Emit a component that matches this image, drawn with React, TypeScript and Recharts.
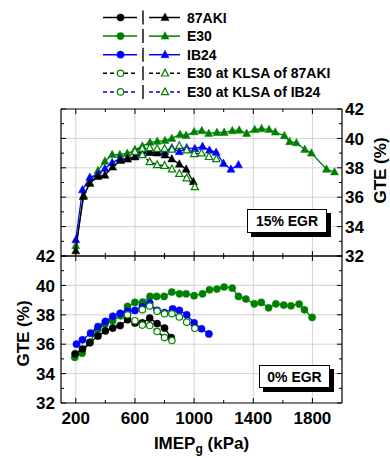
import React from "react";
import { ReferenceLine, Scatter, ScatterChart, XAxis, YAxis } from "recharts";

const BLACK = "#000000";
const GREEN = "#008000";
const BLUE = "#0000ff";
const GRID = "#d2d2d2";
const FONT = '"Liberation Sans", Arial, sans-serif';

// x axis (IMEPg, kPa)
const xTicks = [200, 400, 600, 800, 1000, 1200, 1400, 1600, 1800];
const xMajor = [200, 600, 1000, 1400, 1800];
// y axis (GTE, %)
const yTicks = [32, 33, 34, 35, 36, 37, 38, 39, 40, 41, 42];
const yGrid = [34, 36, 38, 40];

// 15% EGR panel
const e15AkiX = [200, 250, 295, 350, 397, 449, 503, 550, 600, 650, 700, 751, 803, 849, 900, 946, 995];
const e15AkiY = [32.35, 36.05, 36.95, 37.4, 37.5, 38.05, 38.5, 38.6, 38.75, 39.2, 39.05, 39.0, 38.87, 38.6, 38.25, 37.9, 37.05];
const e15E30X = [200, 255, 295, 350, 397, 446, 498, 548, 600, 650, 702, 751, 803, 849, 905, 946, 1000, 1052, 1099, 1154, 1203, 1258, 1305, 1355, 1410, 1456, 1507, 1549, 1610, 1646, 1692, 1748, 1793, 1895, 1949];
const e15E30Y = [32.7, 36.1, 36.95, 37.8, 38.45, 38.9, 38.9, 38.98, 39.2, 39.48, 39.73, 39.8, 39.85, 40.0, 40.27, 40.2, 40.45, 40.52, 40.34, 40.4, 40.4, 40.52, 40.56, 40.34, 40.6, 40.66, 40.6, 40.43, 40.18, 39.78, 39.7, 39.25, 39.0, 37.9, 37.72];
const e15IbX = [200, 245, 295, 350, 397, 446, 498, 548, 600, 650, 702, 751, 803, 849, 900, 950, 1005, 1057, 1104, 1149, 1199, 1249, 1300];
const e15IbY = [33.1, 36.5, 37.35, 37.55, 37.95, 38.35, 38.6, 38.6, 38.75, 38.95, 39.05, 39.05, 39.1, 39.35, 39.1, 39.35, 39.3, 39.45, 39.2, 39.05, 38.3, 37.9, 38.2];
const e15KlsaAkiX = [600, 650, 700, 750, 800, 850, 900, 950, 1005];
const e15KlsaAkiY = [39.1, 38.87, 38.4, 38.2, 38.15, 37.9, 37.6, 37.3, 36.7];
const e15KlsaIbX = [600, 650, 700, 750, 800, 850, 900, 950, 1000, 1050, 1100, 1150];
const e15KlsaIbY = [39.2, 39.3, 39.35, 39.3, 39.3, 39.25, 39.5, 39.2, 38.95, 39.0, 38.75, 38.6];

// 0% EGR panel
const e0AkiX = [195, 245, 295, 350, 400, 450, 500, 550, 600, 650, 700, 750, 800, 845];
const e0AkiY = [35.35, 35.67, 36.1, 36.55, 36.9, 37.1, 37.27, 37.67, 37.45, 37.45, 37.78, 37.4, 37.1, 36.45];
const e0E30X = [193, 243, 295, 347, 397, 449, 503, 550, 600, 652, 702, 747, 797, 849, 901, 946, 1000, 1057, 1104, 1154, 1203, 1258, 1300, 1350, 1407, 1454, 1504, 1553, 1606, 1655, 1710, 1746, 1798];
const e0E30Y = [35.11, 35.39, 36.14, 36.98, 37.36, 37.59, 37.93, 38.57, 38.84, 38.86, 39.25, 39.25, 39.25, 39.55, 39.43, 39.43, 39.3, 39.43, 39.7, 39.75, 39.89, 39.82, 39.25, 39.07, 38.75, 38.84, 38.48, 38.75, 38.66, 38.61, 38.73, 38.34, 37.82];
const e0IbX = [205, 245, 300, 350, 400, 450, 500, 550, 600, 650, 700, 750, 800, 855, 900, 950, 1000, 1050, 1100];
const e0IbY = [36.0, 36.3, 36.75, 37.2, 37.55, 37.9, 38.1, 38.25, 38.3, 38.55, 38.8, 38.3, 38.15, 38.4, 38.3, 38.0, 37.45, 37.05, 36.7];
const e0KlsaAkiX = [600, 650, 700, 750, 800, 850];
const e0KlsaAkiY = [37.6, 37.3, 37.27, 36.86, 36.45, 36.25];
const e0KlsaIbX = [550, 650, 700, 750, 800, 850, 900, 950, 1005];
const e0KlsaIbY = [38.0, 38.35, 38.6, 38.25, 38.07, 38.07, 37.85, 37.5, 37.08];

// legend
const legendNames = ["87AKI", "E30", "IB24", "E30 at KLSA of 87AKI", "E30 at KLSA of IB24"];
const legendLine = [BLACK, GREEN, BLUE, BLACK, BLUE];
const legendMark = [BLACK, GREEN, BLUE, GREEN, GREEN];
const legendOpen = [false, false, false, true, true];

const zip = (xs: number[], ys: number[]) => xs.map((x, i) => ({ x, y: ys[i] }));

type Kind = "circle" | "triangle";

function Marker({ cx, cy, kind, color, open }: { cx: number; cy: number; kind: Kind; color: string; open: boolean }) {
  const fill = open ? "#fff" : color;
  if (kind === "circle") {
    return <circle cx={cx} cy={cy} r={open ? 3.2 : 3.6} fill={fill} stroke={color} strokeWidth={open ? 1.2 : 0.5} />;
  }
  const h = open ? 3.6 : 4;
  return (
    <path
      d={`M${cx},${cy - h * 1.1} L${cx + h},${cy + h * 0.75} L${cx - h},${cy + h * 0.75} Z`}
      fill={fill}
      stroke={color}
      strokeWidth={open ? 1.2 : 0.5}
    />
  );
}

type Side = "left" | "right" | "top" | "bottom";

const makeTick = (side: Side, labelled: boolean, isMajor: (v: number) => boolean) =>
  function Tick(p: any) {
    const v = p.payload.value;
    const major = isMajor(v);
    const len = major ? 5 : 3;
    const { x, y } = p;
    let line;
    let label = null;
    if (side === "left") {
      line = <line x1={x} x2={x + len} y1={y} y2={y} />;
      if (labelled && major) label = <text x={x - 6} y={y} dy="0.36em" textAnchor="end">{v}</text>;
    } else if (side === "right") {
      line = <line x1={x} x2={x - len} y1={y} y2={y} />;
      if (labelled && major) label = <text x={x + 3} y={y} dy="0.36em" textAnchor="start">{v}</text>;
    } else if (side === "top") {
      line = <line x1={x} x2={x} y1={y} y2={y + len} />;
    } else {
      line = <line x1={x} x2={x} y1={y} y2={y - len} />;
      if (labelled && major) label = <text x={x} y={y + 21} textAnchor="middle">{v}</text>;
    }
    return (
      <g>
        <g stroke={BLACK} strokeWidth={1}>{line}</g>
        {label && <g fill={BLACK} fontSize={17} fontWeight="bold" fontFamily={FONT}>{label}</g>}
      </g>
    );
  };

const isXMajor = (v: number) => xMajor.includes(v);
const isYMajor = (v: number) => v % 2 === 0;

const gteLabel = (dx: number, dy: number) =>
  function GteLabel(p: any) {
    const vb = p.viewBox;
    const cx = vb.x + dx;
    const cy = vb.y + vb.height / 2 + dy;
    return (
      <text x={cx} y={cy} transform={`rotate(-90 ${cx} ${cy})`} textAnchor="middle" dy="0.36em" fontSize={17} fontWeight="bold" fontFamily={FONT} fill={BLACK}>
        GTE (%)
      </text>
    );
  };

function XTitle(p: any) {
  const vb = p.viewBox;
  return (
    <text x={vb.x + vb.width / 2} y={vb.y + 46} textAnchor="middle" fontSize={17} fontWeight="bold" fontFamily={FONT} fill={BLACK}>
      IMEP
      <tspan fontSize={12} dy={4}>g</tspan>
      <tspan dy={-4}> (kPa)</tspan>
    </text>
  );
}

interface Series {
  name: string;
  data: { x: number; y: number }[];
  color: string;
  line: string;
  open: boolean;
  dashed: boolean;
}

const topSeries: Series[] = [
  { name: "E30", data: zip(e15E30X, e15E30Y), color: GREEN, line: GREEN, open: false, dashed: false },
  { name: "IB24", data: zip(e15IbX, e15IbY), color: BLUE, line: BLUE, open: false, dashed: false },
  { name: "87AKI", data: zip(e15AkiX, e15AkiY), color: BLACK, line: BLACK, open: false, dashed: false },
  { name: "E30 at KLSA of IB24", data: zip(e15KlsaIbX, e15KlsaIbY), color: GREEN, line: BLUE, open: true, dashed: true },
  { name: "E30 at KLSA of 87AKI", data: zip(e15KlsaAkiX, e15KlsaAkiY), color: GREEN, line: BLACK, open: true, dashed: true },
];

const bottomSeries: Series[] = [
  { name: "E30", data: zip(e0E30X, e0E30Y), color: GREEN, line: GREEN, open: false, dashed: false },
  { name: "IB24", data: zip(e0IbX, e0IbY), color: BLUE, line: BLUE, open: false, dashed: false },
  { name: "87AKI", data: zip(e0AkiX, e0AkiY), color: BLACK, line: BLACK, open: false, dashed: false },
  { name: "E30 at KLSA of IB24", data: zip(e0KlsaIbX, e0KlsaIbY), color: GREEN, line: BLUE, open: true, dashed: true },
  { name: "E30 at KLSA of 87AKI", data: zip(e0KlsaAkiX, e0KlsaAkiY), color: GREEN, line: BLACK, open: true, dashed: true },
];

const axisCommon = {
  tickLine: false,
  tickSize: 0,
  tickMargin: 0,
  interval: 0 as const,
  allowDataOverflow: true,
  axisLine: { stroke: BLACK, strokeWidth: 1.2 },
};

function Panel({ series, kind, yLabelSide, xTitle, height, marginTop, bottomH, topH }: {
  series: Series[];
  kind: Kind;
  yLabelSide: "left" | "right";
  xTitle: boolean;
  height: number;
  marginTop: number;
  bottomH: number;
  topH: number;
}) {
  return (
    <ScatterChart width={390} height={height} margin={{ top: marginTop, right: 0, bottom: 0, left: 0 }}>
      <XAxis xAxisId="b" type="number" dataKey="x" orientation="bottom" height={bottomH} domain={[100, 2000]} ticks={xTicks}
        tick={makeTick("bottom", xTitle, isXMajor)} label={xTitle ? { content: XTitle } : undefined} {...axisCommon} />
      <XAxis xAxisId="t" type="number" dataKey="x" orientation="top" height={topH} domain={[100, 2000]} ticks={xTicks}
        tick={makeTick("top", false, isXMajor)} {...axisCommon} />
      <YAxis yAxisId="l" type="number" dataKey="y" orientation="left" width={61} domain={[32, 42]} ticks={yTicks}
        tick={makeTick("left", yLabelSide === "left", isYMajor)}
        label={yLabelSide === "left" ? { content: gteLabel(23, 4) } : undefined} {...axisCommon} />
      <YAxis yAxisId="r" type="number" dataKey="y" orientation="right" width={48} domain={[32, 42]} ticks={yTicks}
        tick={makeTick("right", yLabelSide === "right", isYMajor)}
        label={yLabelSide === "right" ? { content: gteLabel(38, -12) } : undefined} {...axisCommon} />
      {xMajor.map((v) => (
        <ReferenceLine key={`gx${v}`} x={v} xAxisId="b" yAxisId="r" stroke={GRID} strokeWidth={1} />
      ))}
      {yGrid.map((v) => (
        <ReferenceLine key={`gy${v}`} y={v} xAxisId="b" yAxisId="r" stroke={GRID} strokeWidth={1} />
      ))}
      {series.map((s) => (
        <Scatter
          key={s.name}
          name={s.name}
          data={s.data}
          xAxisId="b"
          yAxisId="r"
          fill={s.color}
          isAnimationActive={false}
          line={{ stroke: s.line, strokeWidth: 1.3, strokeDasharray: s.dashed ? "4 3" : undefined }}
          shape={(p: any) => <Marker cx={p.cx} cy={p.cy} kind={kind} color={s.color} open={s.open} />}
        />
      ))}
    </ScatterChart>
  );
}

function LegendBlock() {
  const rowY = (i: number) => 17.5 + i * 18.6;
  return (
    <svg width={390} height={104} style={{ position: "absolute", left: 0, top: 0 }}>
      {legendNames.map((name, i) => {
        const y = rowY(i);
        const dash = legendOpen[i] ? "4 3" : undefined;
        return (
          <g key={name}>
            <line x1={103} x2={137} y1={y} y2={y} stroke={legendLine[i]} strokeWidth={1.5} strokeDasharray={dash} />
            <Marker cx={120.5} cy={y} kind="circle" color={legendMark[i]} open={legendOpen[i]} />
            <line x1={143} x2={143} y1={y - 7} y2={y + 7} stroke={BLACK} strokeWidth={1.4} />
            <line x1={149} x2={180} y1={y} y2={y} stroke={legendLine[i]} strokeWidth={1.5} strokeDasharray={dash} />
            <Marker cx={165} cy={y} kind="triangle" color={legendMark[i]} open={legendOpen[i]} />
            <text x={187} y={y + 5} fontSize={14} fontWeight="bold" fontFamily={FONT} fill={BLACK}>{name}</text>
          </g>
        );
      })}
    </svg>
  );
}

function TagBox({ text, left, top, width, height }: { text: string; left: number; top: number; width: number; height: number }) {
  return (
    <div
      style={{
        position: "absolute", left, top, width, height, boxSizing: "border-box",
        border: "1px solid #000", background: "#fff", boxShadow: "4px 4px 0 #000",
        font: `bold 14px ${FONT}`, display: "flex", alignItems: "center", justifyContent: "center",
      }}
    >
      {text}
    </div>
  );
}

export default function App() {
  return (
    <div style={{ position: "absolute", left: 0, top: 0, width: 390, height: 458, background: "#fff", fontFamily: FONT }}>
      <LegendBlock />
      <div style={{ position: "absolute", left: 0, top: 0 }}>
        <Panel series={topSeries} kind="triangle" yLabelSide="right" xTitle={false} height={272} marginTop={100} bottomH={16} topH={9} />
      </div>
      <div style={{ position: "absolute", left: 0, top: 247 }}>
        <Panel series={bottomSeries} kind="circle" yLabelSide="left" xTitle={true} height={211} marginTop={0} bottomH={55} topH={9} />
      </div>
      <TagBox text="15% EGR" left={247} top={209} width={80} height={24} />
      <TagBox text="0% EGR" left={259} top={365} width={71} height={23} />
    </div>
  );
}
